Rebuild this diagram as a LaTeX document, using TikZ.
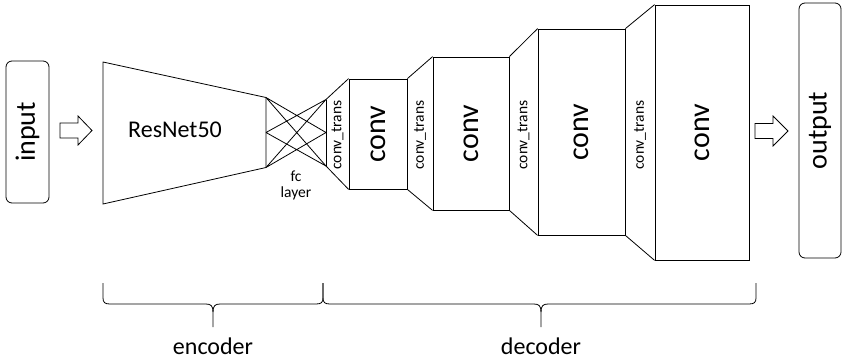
\documentclass[tikz,border=0pt]{standalone}
\usepackage{fontspec}
\setmainfont{Carlito}
\usetikzlibrary{calc}
\begin{document}
\begin{tikzpicture}[x=1pt,y=1pt,line width=0.8pt,line join=miter,
  box/.style={draw,rectangle,inner sep=0pt},
  rbox/.style={draw,rectangle,rounded corners=6pt,inner sep=0pt},
  vtext/.style={rotate=90,inner sep=0pt},
  bigfont/.style={font=\fontsize{28}{30}\selectfont},
  convfont/.style={font=\fontsize{30}{32}\selectfont},
  midfont/.style={font=\fontsize{24}{26}\selectfont},
  smallfont/.style={font=\fontsize{15.5}{17}\selectfont}]
\useasboundingbox (0,0) rectangle (842,-361);

% input / output
\node[rbox,minimum width=43,minimum height=142] (inp) at (27.5,-132) {};
\node[vtext,bigfont] (inptxt) at (inp.center) {input};
\node[rbox,minimum width=42,minimum height=255] (out) at (820,-130.5) {};
\node[vtext,bigfont] (outtxt) at (out.center) {output};

% block arrows
\draw (60,-123) -- (78,-123) -- (78,-116) -- (92,-130.5) -- (78,-145) -- (78,-138) -- (60,-138) -- cycle;
\draw (755,-123.5) -- (773,-123.5) -- (773,-116) -- (788,-131) -- (773,-146) -- (773,-138.5) -- (755,-138.5) -- cycle;

% encoder
\coordinate (E1) at (103,-62);
\coordinate (E2) at (103,-204);
\coordinate (L1) at (266,-97.5);
\coordinate (L2) at (266,-132.5);
\coordinate (L3) at (266,-167.5);
\coordinate (R1) at (326,-99.5);
\coordinate (R2) at (326,-132.5);
\coordinate (R3) at (326,-166);
\draw (E1) -- (L1) -- (L3) -- (E2) -- cycle;
\node[midfont] (resnet) at (175,-130) {ResNet50};

% fc layer
\draw (R1) -- (R3);
\draw (L1) -- (R2) (L1) -- (R3) (L2) -- (R1) (L2) -- (R3) (L3) -- (R1) (L3) -- (R2);
\node[smallfont,align=center,inner sep=0pt,anchor=north] (fc) at (296,-170) {fc\\[-1pt]layer};

% decoder boxes
\node[box,minimum width=58,minimum height=110] (c1) at (378,-134) {};
\node[box,minimum width=76,minimum height=153] (c2) at (471,-133.5) {};
\node[box,minimum width=87,minimum height=206] (c3) at (581.5,-132) {};
\node[box,minimum width=94,minimum height=255] (c4) at (702,-132.5) {};
\foreach \c in {c1,c2,c3,c4}{
  \node[vtext,convfont] (\c txt) at (\c.center) {conv};
}

% conv_trans trapezoids
\draw (R1) -- (c1.north west) (R3) -- (c1.south west);
\draw (c1.north east) -- (c2.north west) (c1.south east) -- (c2.south west);
\draw (c2.north east) -- (c3.north west) (c2.south east) -- (c3.south west);
\draw (c3.north east) -- (c4.north west) (c3.south east) -- (c4.south west);
\node[vtext,smallfont] (t1) at (337.5,-135) {conv\_trans};
\node[vtext,smallfont] (t2) at (420,-135) {conv\_trans};
\node[vtext,smallfont] (t3) at (523.5,-135) {conv\_trans};
\node[vtext,smallfont] (t4) at (640,-135) {conv\_trans};

% braces
\draw (103,-283) -- (103,-298) .. controls (103,-302.5) and (105,-304) .. (110,-304)
  -- (206,-304) .. controls (211,-304) and (213,-306) .. (213,-312) -- (213,-327);
\draw (213,-312) .. controls (213,-306) and (215,-304) .. (220,-304)
  -- (316,-304) .. controls (321,-304) and (323,-302.5) .. (323,-298) -- (323,-283);
\draw (323,-283) -- (323,-298) .. controls (323,-302.5) and (325,-304) .. (330,-304)
  -- (534,-304) .. controls (539,-304) and (541,-306) .. (541,-312) -- (541,-327);
\draw (541,-312) .. controls (541,-306) and (543,-304) .. (548,-304)
  -- (749,-304) .. controls (754,-304) and (756,-302.5) .. (756,-298) -- (756,-283);
\node[midfont,anchor=base] (enc) at (213,-354) {encoder};
\node[midfont,anchor=base] (dec) at (541,-354) {decoder};
\end{tikzpicture}
\end{document}
